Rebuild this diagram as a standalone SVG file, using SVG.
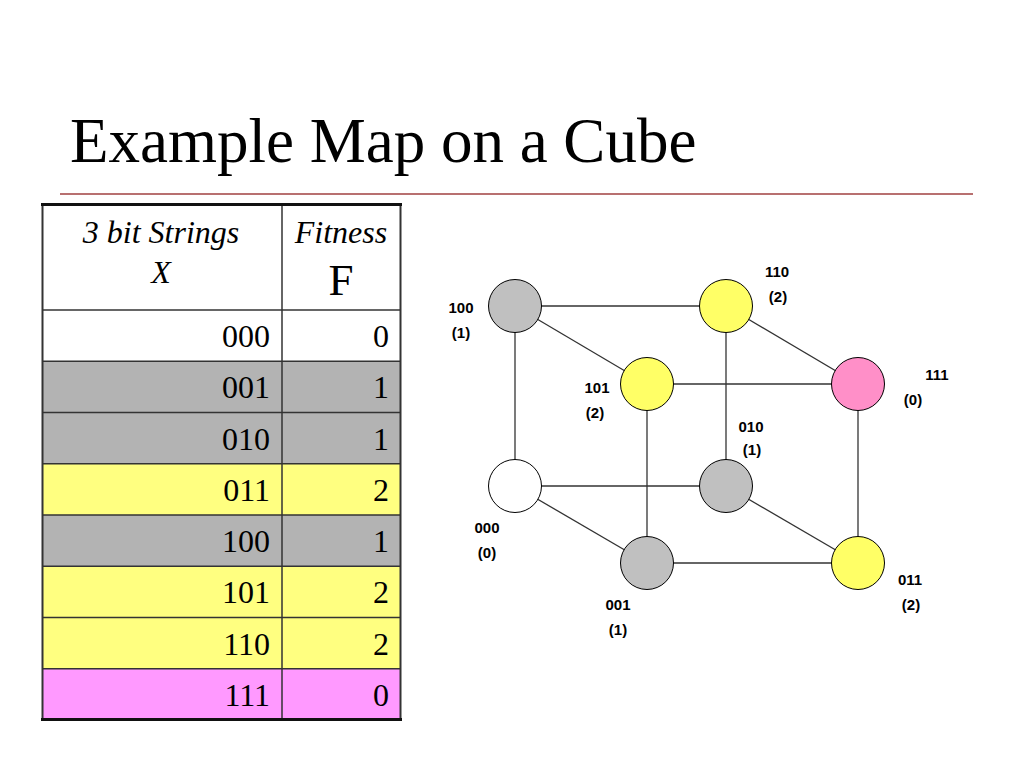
<svg xmlns="http://www.w3.org/2000/svg" width="1024" height="768" viewBox="0 0 1024 768">
<style>
.title{font-family:"Liberation Serif","Times New Roman",serif;font-size:63px;fill:#000}
.th{font-family:"Liberation Serif","Times New Roman",serif;font-size:32px;font-style:italic;fill:#000;text-anchor:middle}
.td{font-family:"Liberation Serif","Times New Roman",serif;font-size:32px;fill:#000;text-anchor:end}
.grid{stroke:#333;stroke-width:1.5;fill:none}
.edge{stroke:#333;stroke-width:1.3;fill:none}
.node{stroke:#000;stroke-width:1}
.lbl{font-family:"Liberation Sans",Arial,sans-serif;font-size:15px;font-weight:bold;fill:#000;text-anchor:middle}
.gray{fill:#c0c0c0}.yel{fill:#ffff66}.pink{fill:#ff8fc8}.white{fill:#fff}
</style>
<rect width="1024" height="768" fill="#fff"/>
<text class="title" x="70" y="162">Example Map on a Cube</text>
<line x1="60" y1="194" x2="973" y2="194" stroke="#a04040" stroke-width="1.5"/>

<g id="table">
  <rect x="42" y="310" width="359" height="51.25" fill="#ffffff"/>
  <rect x="42" y="361.25" width="359" height="51.25" fill="#b3b3b3"/>
  <rect x="42" y="412.5" width="359" height="51.25" fill="#b3b3b3"/>
  <rect x="42" y="463.75" width="359" height="51.25" fill="#ffff80"/>
  <rect x="42" y="515" width="359" height="51.25" fill="#b3b3b3"/>
  <rect x="42" y="566.25" width="359" height="51.25" fill="#ffff80"/>
  <rect x="42" y="617.5" width="359" height="51.25" fill="#ffff80"/>
  <rect x="42" y="668.75" width="359" height="51.25" fill="#ff99ff"/>
  <g class="grid">
    <line x1="42" y1="310" x2="401" y2="310"/>
    <line x1="42" y1="361.25" x2="401" y2="361.25"/>
    <line x1="42" y1="412.5" x2="401" y2="412.5"/>
    <line x1="42" y1="463.75" x2="401" y2="463.75"/>
    <line x1="42" y1="515" x2="401" y2="515"/>
    <line x1="42" y1="566.25" x2="401" y2="566.25"/>
    <line x1="42" y1="617.5" x2="401" y2="617.5"/>
    <line x1="42" y1="668.75" x2="401" y2="668.75"/>
    <line x1="282" y1="204" x2="282" y2="720"/>
    <line x1="42.5" y1="204" x2="42.5" y2="720" stroke-width="2"/>
    <line x1="400.5" y1="204" x2="400.5" y2="720" stroke-width="2"/>
  </g>
  <line x1="41" y1="204.5" x2="402" y2="204.5" stroke="#111" stroke-width="3"/>
  <line x1="41" y1="719.5" x2="402" y2="719.5" stroke="#111" stroke-width="3"/>
  <text class="th" x="161" y="243">3 bit Strings</text>
  <text class="th" x="161" y="283">X</text>
  <text class="th" x="341" y="243">Fitness</text>
  <text x="341" y="295" font-family="Liberation Serif,Times New Roman,serif" font-size="45" text-anchor="middle">F</text>
  <text class="td" x="270" y="347">000</text><text class="td" x="389" y="347">0</text>
  <text class="td" x="270" y="398.25">001</text><text class="td" x="389" y="398.25">1</text>
  <text class="td" x="270" y="449.5">010</text><text class="td" x="389" y="449.5">1</text>
  <text class="td" x="270" y="500.75">011</text><text class="td" x="389" y="500.75">2</text>
  <text class="td" x="270" y="552">100</text><text class="td" x="389" y="552">1</text>
  <text class="td" x="270" y="603.25">101</text><text class="td" x="389" y="603.25">2</text>
  <text class="td" x="270" y="654.5">110</text><text class="td" x="389" y="654.5">2</text>
  <text class="td" x="270" y="705.75">111</text><text class="td" x="389" y="705.75">0</text>
</g>

<g id="edges" class="edge">
  <line x1="515" y1="306" x2="726" y2="306"/>
  <line x1="515" y1="306" x2="647" y2="384"/>
  <line x1="515" y1="306" x2="515" y2="486"/>
  <line x1="647" y1="384" x2="858" y2="384"/>
  <line x1="647" y1="384" x2="647" y2="563"/>
  <line x1="726" y1="306" x2="858" y2="384"/>
  <line x1="726" y1="306" x2="726" y2="486"/>
  <line x1="858" y1="384" x2="858" y2="563"/>
  <line x1="515" y1="486" x2="726" y2="486"/>
  <line x1="515" y1="486" x2="647" y2="563"/>
  <line x1="726" y1="486" x2="858" y2="563"/>
  <line x1="647" y1="563" x2="858" y2="563"/>
</g>

<g id="n100"><circle class="node gray" cx="515" cy="306" r="26.5"/><text class="lbl" x="461" y="313">100</text><text class="lbl" x="461" y="338">(1)</text></g>
<g id="n110"><circle class="node yel" cx="726" cy="306" r="26.5"/><text class="lbl" x="777" y="277">110</text><text class="lbl" x="778" y="302">(2)</text></g>
<g id="n101"><circle class="node yel" cx="647" cy="384" r="26.5"/><text class="lbl" x="597" y="393">101</text><text class="lbl" x="595" y="418">(2)</text></g>
<g id="n111"><circle class="node pink" cx="858" cy="384" r="26.5"/><text class="lbl" x="937" y="380">111</text><text class="lbl" x="913" y="405">(0)</text></g>
<g id="n000"><circle class="node white" cx="515" cy="486" r="26.5"/><text class="lbl" x="487" y="533">000</text><text class="lbl" x="487" y="558">(0)</text></g>
<g id="n010"><circle class="node gray" cx="726" cy="486" r="26.5"/><text class="lbl" x="751" y="432">010</text><text class="lbl" x="752" y="455">(1)</text></g>
<g id="n001"><circle class="node gray" cx="647" cy="563" r="26.5"/><text class="lbl" x="618" y="610">001</text><text class="lbl" x="618" y="635">(1)</text></g>
<g id="n011"><circle class="node yel" cx="858" cy="563" r="26.5"/><text class="lbl" x="910" y="585">011</text><text class="lbl" x="911" y="610">(2)</text></g>
</svg>
